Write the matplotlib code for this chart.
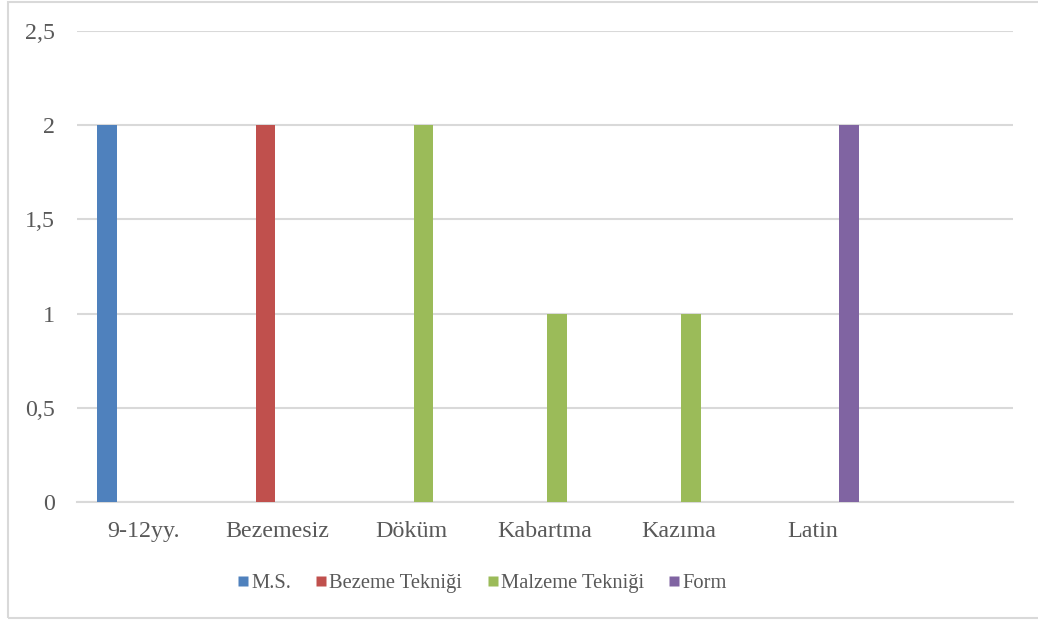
import matplotlib.pyplot as plt
from matplotlib.lines import Line2D
from matplotlib.patches import Rectangle
import numpy as np

plt.rcParams['font.family'] = ['Liberation Serif', 'DejaVu Serif']

categories = ["9-12yy.", "Bezemesiz", "Döküm", "Kabartma", "Kazıma", "Latin", ""]
series_names = ["M.S.", "Bezeme Tekniği", "Malzeme Tekniği", "Form"]
ms_values = [2, 0, 0, 0, 0, 0, 0]
bezeme_values = [0, 2, 0, 0, 0, 0, 0]
malzeme_values = [0, 0, 2, 1, 1, 0, 0]
form_values = [0, 0, 0, 0, 0, 2, 0]
y_ticks = [0, 0.5, 1, 1.5, 2, 2.5]
y_tick_labels = ["0", "0,5", "1", "1,5", "2", "2,5"]

colors = ["#4F81BD", "#C0504D", "#9BBB59", "#8064A2"]
text_color = "#595959"
grid_color = "#D9D9D9"

figure = plt.figure(figsize=(10.38, 6.2), dpi=100)
axes = figure.add_axes([77 / 1038, 1 - 502 / 620, 936 / 1038, 471 / 620])

x = np.arange(len(categories))
slot = 0.183
bar_width = 0.146
gap = 1 - 4 * slot
all_values = [ms_values, bezeme_values, malzeme_values, form_values]
for s, (values, color) in enumerate(zip(all_values, colors)):
    offsets = x - 0.5 + gap / 2 + (s + 0.5) * slot
    axes.bar(offsets, values, width=bar_width, color=color, zorder=3)

axes.set_xlim(-0.5, len(categories) - 0.5)
axes.set_ylim(0, 2.5)
axes.set_yticks(y_ticks)
axes.set_yticklabels(y_tick_labels)
axes.set_xticks(x)
axes.set_xticklabels(categories)
axes.yaxis.grid(True, color=grid_color, linewidth=1.5, zorder=0)
axes.tick_params(axis='both', length=0, labelsize=17.3, labelcolor=text_color)
axes.tick_params(axis='y', pad=16)
axes.tick_params(axis='x', pad=14)
for side in ['left', 'right', 'top']:
    axes.spines[side].set_visible(False)
axes.spines['bottom'].set_color(grid_color)
axes.spines['bottom'].set_linewidth(1.5)

# square swatches for the legend
handles = [Line2D([], [], marker='s', linestyle='none', markersize=7.3,
                  markerfacecolor=c, markeredgecolor='none') for c in colors]
figure.legend(handles, series_names, loc='center', bbox_to_anchor=(482 / 1038, 1 - 583 / 620),
              ncol=4, frameon=False, fontsize=14.8, labelcolor=text_color,
              handlelength=0.55, handletextpad=0.12, columnspacing=1.2)

figure.patches.append(Rectangle((8 / 1038, 2 / 620), 1.02, 616 / 620, transform=figure.transFigure,
                                fill=False, edgecolor=grid_color, linewidth=1.5))

figure.savefig('out.png', dpi=100)
